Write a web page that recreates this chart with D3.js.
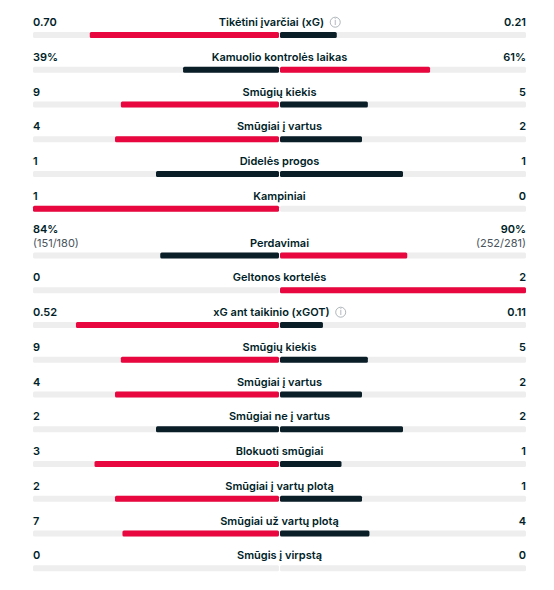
<!DOCTYPE html>
<html>
<head>
<meta charset="utf-8">
<script src="https://cdn.jsdelivr.net/npm/d3@7"></script>
<style>
  html, body { margin: 0; padding: 0; background: #fff; }
  svg { display: block; font-family: Inter, "Noto Sans", sans-serif; }
  .val { font-size: 11px; font-weight: 600; fill: #001e28; }
  .sub { font-size: 11px; font-weight: 400; fill: #4a555c; }
  .name { font-size: 11px; font-weight: 600; fill: #001e28; }
</style>
</head>
<body>
<div id="chart"></div>
<script>
// Stat names, top to bottom
const statNames = [
  'Tikėtini įvarčiai (xG)', 'Kamuolio kontrolės laikas', 'Smūgių kiekis', 'Smūgiai į vartus',
  'Didelės progos', 'Kampiniai', 'Perdavimai', 'Geltonos kortelės',
  'xG ant taikinio (xGOT)', 'Smūgių kiekis', 'Smūgiai į vartus', 'Smūgiai ne į vartus',
  'Blokuoti smūgiai', 'Smūgiai į vartų plotą', 'Smūgiai už vartų plotą', 'Smūgis į virpstą'
]
// Values used for bar lengths
const homeValues = [0.70, 39, 9, 4, 1, 1, 84, 0, 0.52, 9, 4, 2, 3, 2, 7, 0]
const awayValues = [0.21, 61, 5, 2, 1, 0, 90, 2, 0.11, 5, 2, 2, 1, 1, 4, 0]
// Displayed labels
const homeLabels = ['0.70', '39%', '9', '4', '1', '1', '84%', '0', '0.52', '9', '4', '2', '3', '2', '7', '0']
const awayLabels = ['0.21', '61%', '5', '2', '1', '0', '90%', '2', '0.11', '5', '2', '2', '1', '1', '4', '0']
// Secondary lines (only passes)
const homeSub = ['', '', '', '', '', '', '(151/180)', '', '', '', '', '', '', '', '', '']
const awaySub = ['', '', '', '', '', '', '(252/281)', '', '', '', '', '', '', '', '', '']
// Rows with an info icon
const infoRows = [0, 8]

const width = 554, height = 590
const left = 33, right = 526, center = 279.5
const rowStep = 34.75, firstBarTop = 32, barHeight = 6, subExtra = 12
const red = '#e8073f', dark = '#0a1e28', track = '#eeeeee'

const rows = statNames.map((name, i) => ({
  name,
  home: homeValues[i], away: awayValues[i],
  homeLabel: homeLabels[i], awayLabel: awayLabels[i],
  homeSub: homeSub[i], awaySub: awaySub[i],
  info: infoRows.includes(i)
}))

// cumulative extra space for rows that have a second line
let extra = 0
rows.forEach((d, i) => {
  if (d.homeSub) extra += subExtra
  d.top = firstBarTop + i * rowStep + extra
})

const xHome = d3.scaleLinear().domain([0, 1]).range([center - 0.5, left])
const xAway = d3.scaleLinear().domain([0, 1]).range([center + 0.5, right])

const svg = d3.select('#chart').append('svg')
  .attr('width', width)
  .attr('height', height)

const row = svg.selectAll('.row')
  .data(rows)
  .enter()
  .append('g')
  .attr('class', 'row')
  .attr('transform', d => 'translate(0,' + d.top + ')')

// tracks
row.append('rect')
  .attr('x', xHome(1)).attr('y', 0)
  .attr('width', xHome(0) - xHome(1)).attr('height', barHeight)
  .attr('rx', 1.5).attr('fill', track)
row.append('rect')
  .attr('x', xAway(0)).attr('y', 0)
  .attr('width', xAway(1) - xAway(0)).attr('height', barHeight)
  .attr('rx', 1.5).attr('fill', track)

const share = (a, b) => (a + b) === 0 ? 0 : a / (a + b)

// bars
row.append('rect')
  .attr('x', d => xHome(share(d.home, d.away)))
  .attr('y', 0)
  .attr('width', d => xHome(0) - xHome(share(d.home, d.away)))
  .attr('height', barHeight)
  .attr('rx', 1.5)
  .attr('fill', d => d.home > d.away ? red : dark)
row.append('rect')
  .attr('x', xAway(0))
  .attr('y', 0)
  .attr('width', d => xAway(share(d.away, d.home)) - xAway(0))
  .attr('height', barHeight)
  .attr('rx', 1.5)
  .attr('fill', d => d.away > d.home ? red : dark)

// values
row.append('text')
  .attr('class', 'val')
  .attr('x', left)
  .attr('y', d => d.homeSub ? -19.5 : -6)
  .text(d => d.homeLabel)
row.append('text')
  .attr('class', 'val')
  .attr('x', right)
  .attr('y', d => d.awaySub ? -19.5 : -6)
  .attr('text-anchor', 'end')
  .text(d => d.awayLabel)
row.filter(d => d.homeSub).append('text')
  .attr('class', 'sub')
  .attr('x', left)
  .attr('y', -6)
  .text(d => d.homeSub)
row.filter(d => d.awaySub).append('text')
  .attr('class', 'sub')
  .attr('x', right)
  .attr('y', -6)
  .attr('text-anchor', 'end')
  .text(d => d.awaySub)

// names
row.append('text')
  .attr('class', 'name')
  .attr('x', center)
  .attr('y', -6)
  .attr('text-anchor', 'middle')
  .text(d => d.name)
  .each(function (d) { d.nameWidth = this.getComputedTextLength() })

// info icons, name shifted left to keep the group centred
row.filter(d => d.info).each(function (d) {
  const g = d3.select(this)
  const iconGap = 6, r = 5
  const total = d.nameWidth + iconGap + r * 2
  const startX = center - total / 2
  g.select('.name').attr('x', startX + d.nameWidth / 2)
  const cx = startX + d.nameWidth + iconGap + r
  g.append('circle')
    .attr('cx', cx).attr('cy', -9.8).attr('r', r)
    .attr('fill', 'none').attr('stroke', '#9aa3a8').attr('stroke-width', 0.8)
  g.append('text')
    .attr('x', cx).attr('y', -6.8)
    .attr('text-anchor', 'middle')
    .style('font-size', '8px').style('fill', '#9aa3a8')
    .text('i')
})
</script>
</body>
</html>
